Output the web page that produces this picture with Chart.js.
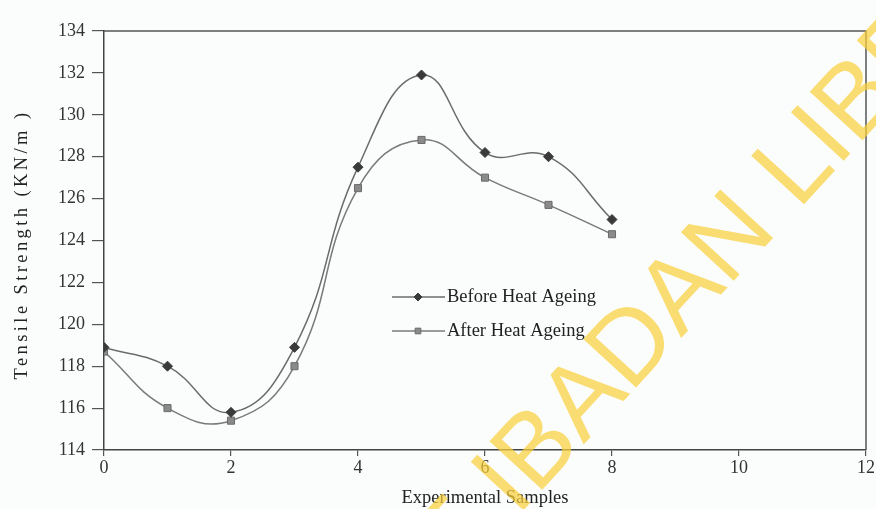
<!DOCTYPE html>
<html>
<head>
<meta charset="utf-8">
<script src="https://cdn.jsdelivr.net/npm/chart.js@4"></script>
<style>
  html, body { margin: 0; padding: 0; background: #fbfdfd; }
  #wrap { width: 876px; height: 509px; position: relative; }
</style>
</head>
<body>
<div id="wrap"><canvas id="c" width="876" height="509"></canvas></div>
<script>
const samples = [0, 1, 2, 3, 4, 5, 6, 7, 8];
const beforeHeat = [118.9, 118.0, 115.8, 118.9, 127.5, 131.9, 128.2, 128.0, 125.0];
const afterHeat  = [118.7, 116.0, 115.4, 118.0, 126.5, 128.8, 127.0, 125.7, 124.3];
const seriesNames = ['Before Heat Ageing', 'After Heat Ageing'];
const xTitle = 'Experimental Samples';
const yTitle = 'Tensile Strength (KN/m )';
const watermark = 'OF IBADAN LIBRARY';

const serif = '"Liberation Serif", "DejaVu Serif", serif';

function pts(ys) { return samples.map((x, i) => ({ x: x, y: ys[i] })); }

const framePlugin = {
  id: 'frame',
  afterDatasetsDraw(chart) {
    const { ctx, chartArea: a } = chart;
    ctx.save();
    ctx.strokeStyle = '#555';
    ctx.lineWidth = 1.5;
    ctx.beginPath();
    ctx.moveTo(a.left, a.top);
    ctx.lineTo(a.right, a.top);
    ctx.lineTo(a.right, a.bottom);
    ctx.stroke();
    ctx.restore();
  }
};

const yTitlePlugin = {
  id: 'yTitle',
  afterDraw(chart) {
    const { ctx, chartArea: a } = chart;
    ctx.save();
    ctx.translate(22, (a.top + a.bottom) / 2 + 4);
    ctx.rotate(-Math.PI / 2);
    ctx.font = '18.5px ' + serif;
    ctx.letterSpacing = '3.4px';
    ctx.fillStyle = '#222';
    ctx.textAlign = 'center';
    ctx.textBaseline = 'middle';
    ctx.fillText(yTitle, 0, 0);
    ctx.restore();
  }
};

const legendPlugin = {
  id: 'inLegend',
  afterDatasetsDraw(chart) {
    const { ctx, chartArea: a } = chart;
    ctx.save();
    chart.data.datasets.forEach((ds, i) => {
      const y = a.top + 266 + i * 34;
      const x0 = a.left + 288, x1 = a.left + 341, xm = a.left + 314;
      ctx.strokeStyle = ds.borderColor;
      ctx.lineWidth = 1.5;
      ctx.beginPath(); ctx.moveTo(x0, y); ctx.lineTo(x1, y); ctx.stroke();
      ctx.fillStyle = ds.pointBackgroundColor;
      ctx.strokeStyle = ds.pointBorderColor;
      ctx.lineWidth = 1;
      Chart.helpers.drawPoint(ctx, {
        pointStyle: ds.pointStyle, radius: ds.pointRadius - 1, borderWidth: 1
      }, xm, y);
      ctx.fillStyle = '#222';
      ctx.font = '18.5px ' + serif;
      ctx.textBaseline = 'middle';
      ctx.fillText(ds.label, x1 + 2, y);
    });
    ctx.restore();
  }
};

const markPlugin = {
  id: 'watermark',
  afterDraw(chart) {
    const { ctx } = chart;
    ctx.save();
    ctx.translate(400, 645);
    ctx.rotate(-47.5 * Math.PI / 180);
    ctx.font = '104px "Liberation Sans", Arial, sans-serif';
    ctx.fillStyle = 'rgba(250, 208, 60, 0.72)';
    ctx.textBaseline = 'alphabetic';
    ctx.fillText(watermark, 0, 0);
    ctx.restore();
  }
};

new Chart(document.getElementById('c'), {
  type: 'scatter',
  data: {
    datasets: [
      {
        label: seriesNames[0],
        data: pts(beforeHeat),
        showLine: true,
        tension: 0.45,
        borderColor: '#6b6b6b',
        borderWidth: 1.5,
        pointStyle: 'rectRot',
        pointRadius: 5,
        pointBackgroundColor: '#3a3a3a',
        pointBorderColor: '#3a3a3a',
        pointBorderWidth: 1
      },
      {
        label: seriesNames[1],
        data: pts(afterHeat),
        showLine: true,
        tension: 0.45,
        borderColor: '#7a7a7a',
        borderWidth: 1.5,
        pointStyle: 'rect',
        pointRadius: 5,
        pointBackgroundColor: '#8a8a8a',
        pointBorderColor: '#6a6a6a',
        pointBorderWidth: 1
      }
    ]
  },
  options: {
    responsive: false,
    animation: false,
    events: [],
    layout: { autoPadding: false, padding: { top: 31, right: 7, left: 0, bottom: 0 } },
    plugins: { legend: { display: false }, tooltip: { enabled: false } },
    scales: {
      x: {
        type: 'linear',
        min: 0, max: 12,
        afterFit(s) { s.height = 59; },
        ticks: { stepSize: 2, color: '#333', font: { family: serif, size: 18 }, padding: 1 },
        grid: { drawOnChartArea: false, drawTicks: true, tickLength: 6, color: '#555', lineWidth: 1.2 },
        border: { display: true, color: '#444', width: 1.5 },
        title: { display: true, text: xTitle, color: '#222', font: { family: serif, size: 18.5 }, padding: { top: 0, bottom: 0 } }
      },
      y: {
        type: 'linear',
        min: 114, max: 134,
        afterFit(s) { s.width = 104; },
        ticks: { stepSize: 2, color: '#333', font: { family: serif, size: 18 }, padding: 7 },
        grid: { drawOnChartArea: false, drawTicks: true, tickLength: 12, color: '#555', lineWidth: 1.2 },
        border: { display: true, color: '#444', width: 1.5 },
        title: { display: false }
      }
    }
  },
  plugins: [framePlugin, legendPlugin, yTitlePlugin, markPlugin]
});
</script>
</body>
</html>
